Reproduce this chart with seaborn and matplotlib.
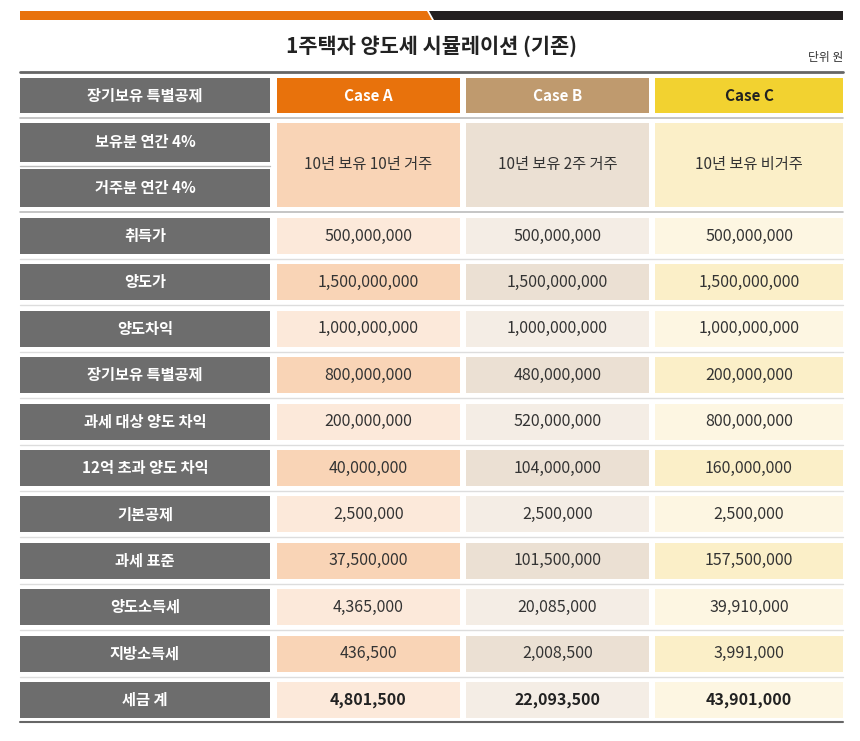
import matplotlib.pyplot as plt
import matplotlib.patches as mpatches
import seaborn as sns

sns.set_theme(style="white")
plt.rcParams['font.family'] = ['Noto Sans CJK KR', 'DejaVu Sans']

title = '1주택자 양도세 시뮬레이션 (기존)'
unit = '단위 원'
cases = ['Case A', 'Case B', 'Case C']
case_desc = ['10년 보유 10년 거주', '10년 보유 2주 거주', '10년 보유 비거주']
row_labels = ['취득가', '양도가', '양도차익', '장기보유 특별공제', '과세 대상 양도 차익',
              '12억 초과 양도 차익', '기본공제', '과세 표준', '양도소득세', '지방소득세', '세금 계']
case_a = [500000000, 1500000000, 1000000000, 800000000, 200000000, 40000000,
          2500000, 37500000, 4365000, 436500, 4801500]
case_b = [500000000, 1500000000, 1000000000, 480000000, 520000000, 104000000,
          2500000, 101500000, 20085000, 2008500, 22093500]
case_c = [500000000, 1500000000, 1000000000, 200000000, 800000000, 160000000,
          2500000, 157500000, 39910000, 3991000, 43901000]

head_col = ['#E8720C', '#BF9A6E', '#F2D230']
light_col = ['#FCE9DA', '#F4EDE5', '#FDF6E2']
dark_col = ['#F9D4B6', '#EBE0D3', '#FBEFC8']
gray = '#6D6D6D'

fig = plt.figure(figsize=(8.6, 7.41), dpi=100)
ax = fig.add_axes([0, 0, 1, 1])
ax.set_xlim(0, 860)
ax.set_ylim(741, 0)
ax.axis('off')

def box(x0, y0, x1, y1, c):
    ax.add_patch(mpatches.Rectangle((x0, y0), x1 - x0, y1 - y0, color=c, lw=0))

# top bar
ax.add_patch(mpatches.Polygon([(20, 11), (427, 11), (432, 20), (20, 20)], color='#E8720C', lw=0))
ax.add_patch(mpatches.Polygon([(429, 11), (843, 11), (843, 20), (434, 20)], color='#231F20', lw=0))
ax.text(431, 46, title, ha='center', va='center', fontsize=15, fontweight='bold', color='#222222')
ax.text(843, 58, unit, ha='right', va='center', fontsize=8.5, color='#333333')
ax.plot([20, 843], [72, 72], color='#666666', lw=2)

cols = [(277, 460), (466, 649), (655, 843)]
lab = (20, 270)

# header row
box(lab[0], 78, lab[1], 113, gray)
ax.text(sum(lab) / 2, 96, '장기보유 특별공제', ha='center', va='center', color='white', fontsize=11, fontweight='bold')
for i, (x0, x1) in enumerate(cols):
    box(x0, 78, x1, 113, head_col[i])
    ax.text((x0 + x1) / 2, 96, cases[i], ha='center', va='center', fontsize=11, fontweight='bold',
            color='#222222' if i == 2 else 'white')
ax.plot([20, 843], [118, 118], color='#BBBBBB', lw=1.2)

# sub rows
box(lab[0], 123, lab[1], 162, gray)
box(lab[0], 169, lab[1], 207, gray)
ax.plot([20, 270], [165.5, 165.5], color='#BBBBBB', lw=1)
ax.text(sum(lab) / 2, 142, '보유분 연간 4%', ha='center', va='center', color='white', fontsize=11, fontweight='bold')
ax.text(sum(lab) / 2, 188, '거주분 연간 4%', ha='center', va='center', color='white', fontsize=11, fontweight='bold')
for i, (x0, x1) in enumerate(cols):
    box(x0, 123, x1, 207, dark_col[i])
    ax.text((x0 + x1) / 2, 165, case_desc[i], ha='center', va='center', fontsize=11, color='#333333')
ax.plot([20, 843], [212, 212], color='#BBBBBB', lw=1.2)

# value rows
step = 46.4
for r, name in enumerate(row_labels):
    y0 = 218 + r * step
    y1 = y0 + 36
    yc = (y0 + y1) / 2
    last = r == len(row_labels) - 1
    box(lab[0], y0, lab[1], y1, gray)
    ax.text(sum(lab) / 2, yc, name, ha='center', va='center', color='white', fontsize=11, fontweight='bold')
    for i, (x0, x1) in enumerate(cols):
        v = [case_a, case_b, case_c][i][r]
        box(x0, y0, x1, y1, dark_col[i] if r % 2 == 1 else light_col[i])
        ax.text((x0 + x1) / 2, yc, f'{v:,}', ha='center', va='center', fontsize=11.5,
                color='#222222' if last else '#333333', fontweight='bold' if last else 'normal')
    if not last:
        ax.plot([20, 843], [y1 + 5, y1 + 5], color='#DDDDDD', lw=1)
ax.plot([20, 843], [722, 722], color='#666666', lw=1.5)

fig.savefig('out.png', dpi=100, facecolor='white')
